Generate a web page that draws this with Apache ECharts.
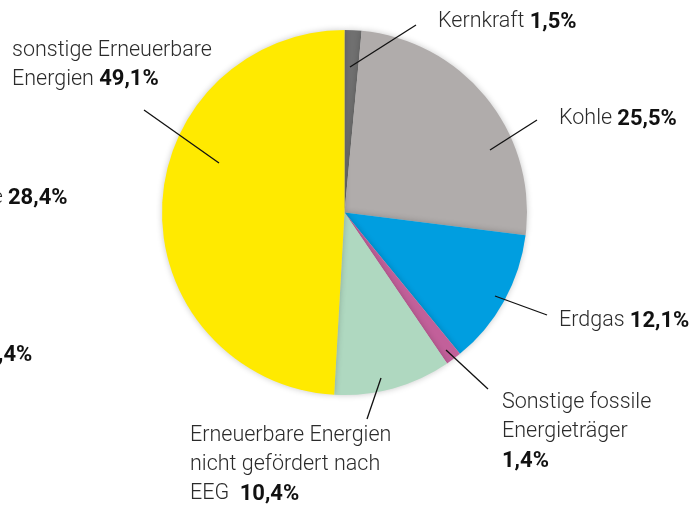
<!DOCTYPE html>
<html>
<head>
<meta charset="utf-8">
<script src="https://cdn.jsdelivr.net/npm/echarts@6/dist/echarts.min.js"></script>
<style>
    html, body { margin: 0; padding: 0; background: #fff; }
    #pie { width: 693px; height: 507px; }
</style>
</head>
<body>
<div id="pie"></div>
<script>
// Daten (Anteile in %)
var names = ['Kernkraft', 'Kohle', 'Erdgas', 'Sonstige fossile Energieträger',
    'Erneuerbare Energien nicht gefördert nach EEG', 'sonstige Erneuerbare Energien'];
var values = [1.5, 25.5, 12.1, 1.4, 10.4, 49.1];
// Beschriftungszeilen je Segment
var labelLines = [
    ['Kernkraft'],
    ['Kohle'],
    ['Erdgas'],
    ['Sonstige fossile', 'Energieträger', ''],
    ['Erneuerbare Energien', 'nicht gefördert nach', 'EEG '],
    ['sonstige Erneuerbare', 'Energien']
];
var colors = ['#707070', '#b0acab', '#009ee0', '#c2609a', '#afd8c0', '#ffea00'];

// Position der Beschriftung und der Hinweislinie
var labelPos = [
    { x: 438, y: 22, line: [[350, 67], [416, 25]] },
    { x: 559, y: 119, line: [[490, 150], [537, 120]] },
    { x: 559, y: 321, line: [[495, 296], [547, 315]] },
    { x: 502, y: 432, line: [[446, 350], [488, 389]] },
    { x: 190, y: 465, line: [[381, 378], [367, 419]] },
    { x: 12, y: 65, line: [[219, 163], [144, 110]] }
];

function fmt(v) {
    return v.toFixed(1).replace('.', ',') + '%';
}

var seriesData = [];
for (var i = 0; i < names.length; i++) {
    seriesData.push({ name: names[i], value: values[i], itemStyle: { color: colors[i] } });
}

// Hinweislinien ueber dem Kreis
var graphics = [];
for (var j = 0; j < labelPos.length; j++) {
    graphics.push({
        type: 'line',
        z: 100,
        shape: {
            x1: labelPos[j].line[0][0], y1: labelPos[j].line[0][1],
            x2: labelPos[j].line[1][0], y2: labelPos[j].line[1][1]
        },
        style: { stroke: '#111', lineWidth: 1.3 }
    });
}
// abgeschnittene Beschriftungen am linken Rand
graphics.push({
    type: 'text', left: -8, top: 187,
    style: {
        text: '{n|e }{v|28,4%}',
        rich: {
            n: { fontFamily: 'Roboto', fontWeight: 300, fontSize: 21, fill: '#2b2b2b' },
            v: { fontFamily: 'Roboto', fontWeight: 'bold', fontSize: 22, fill: '#111' }
        }
    }
});
graphics.push({
    type: 'text', left: -2, top: 344,
    style: { text: ',4%', font: 'bold 22px Roboto', fill: '#111' }
});

var myChart = echarts.init(document.getElementById('pie'));
var option = {
    animation: false,
    series: [{
        type: 'pie',
        center: [344.5, 212.5],
        radius: 182.5,
        startAngle: 90,
        clockwise: true,
        avoidLabelOverlap: false,
        data: seriesData,
        itemStyle: {
            shadowBlur: 6,
            shadowColor: 'rgba(0,0,0,0.22)'
        },
        label: {
            show: true,
            position: 'outside',
            fontFamily: 'Roboto',
            lineHeight: 29,
            formatter: function (p) {
                var lines = labelLines[p.dataIndex];
                var out = [];
                for (var k = 0; k < lines.length; k++) {
                    var s = lines[k] ? '{n|' + lines[k] + '}' : '';
                    if (k == lines.length - 1) {
                        s += (lines[k] ? '{n| }' : '') + '{v|' + fmt(p.value) + '}';
                    }
                    out.push(s);
                }
                return out.join('\n');
            },
            rich: {
                n: { fontFamily: 'Roboto', fontWeight: 300, fontSize: 21.5, color: '#2b2b2b', lineHeight: 29 },
                v: { fontFamily: 'Roboto', fontWeight: 'bold', fontSize: 22, color: '#111', lineHeight: 29 }
            }
        },
        labelLine: { show: false },
        labelLayout: function (params) {
            var lp = labelPos[params.dataIndex];
            return { x: lp.x, y: lp.y, align: 'left', verticalAlign: 'middle' };
        }
    }],
    graphic: graphics
};
myChart.setOption(option);
</script>
</body>
</html>
